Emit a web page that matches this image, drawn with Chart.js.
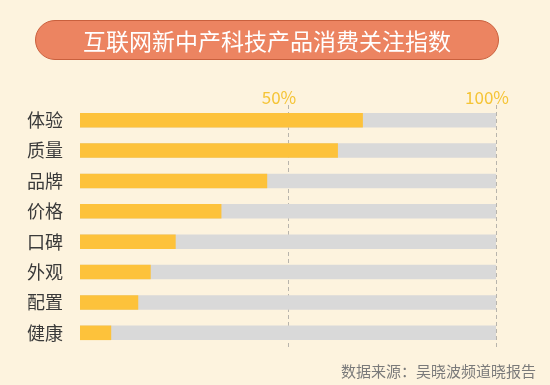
<!DOCTYPE html>
<html>
<head>
<meta charset="utf-8">
<script src="https://cdn.jsdelivr.net/npm/chart.js@4/dist/chart.umd.min.js"></script>
<style>
  html, body { margin: 0; padding: 0; background: #fdf3de; }
  #wrap { position: relative; width: 550px; height: 385px; overflow: hidden; }
  #title {
    position: absolute; left: 35px; top: 20px; width: 462px; height: 38px;
    background: #ec8461; border: 1.5px solid #c9603d; border-radius: 20px;
    color: #fff; font: 23px "Noto Sans CJK SC", sans-serif; line-height: 38px;
    text-align: center;
  }
  #source {
    position: absolute; right: 14px; top: 360px;
    color: #7a7a7a; font: 15px "Noto Sans CJK SC", sans-serif;
  }
  canvas { position: absolute; left: 0; top: 0; }
</style>
</head>
<body>
<div id="wrap">
  <canvas id="chart1" width="550" height="385"></canvas>
  <div id="title">互联网新中产科技产品消费关注指数</div>
  <div id="source">数据来源：吴晓波频道晓报告</div>
</div>
<script>
"use strict";

const categories = ['体验', '质量', '品牌', '价格', '口碑', '外观', '配置', '健康'];
const values = [68, 62, 45, 34, 23, 17, 14, 7.5];
const fullScale = [100, 100, 100, 100, 100, 100, 100, 100];
const tickValues = [50, 100];

document.addEventListener("DOMContentLoaded", () => {

    const data = {
        labels: categories,
        datasets: [{
            label: '指数',
            backgroundColor: '#fdc23b',
            data: values,
        }, {
            label: '满值',
            backgroundColor: '#d9d9d9',
            data: fullScale,
        }]
    };

    const config = {
        type: 'bar',
        data: data,
        options: {
            indexAxis: 'y',
            responsive: false,
            animation: false,
            layout: { padding: { left: 5, right: 54, top: 76, bottom: 37 } },
            datasets: {
                bar: { grouped: false, barPercentage: 0.96, categoryPercentage: 0.5 }
            },
            plugins: {
                legend: { display: false },
                tooltip: { enabled: false }
            },
            scales: {
                x: {
                    position: 'top',
                    min: 0,
                    max: 100,
                    afterBuildTicks: (scale) => {
                        scale.ticks = tickValues.map(v => ({ value: v }));
                    },
                    afterFit: (scale) => { scale.height = 29; },
                    border: { display: false, dash: [4, 3] },
                    grid: {
                        color: '#b8b4ac',
                        lineWidth: 1,
                        drawTicks: false
                    },
                    ticks: {
                        callback: (v) => v + '%',
                        color: '#f5c436',
                        padding: -3,
                        labelOffset: -9,
                        font: { family: 'Noto Sans CJK SC', size: 17 }
                    }
                },
                y: {
                    afterFit: (scale) => { scale.width = 75; },
                    border: { display: false },
                    grid: { display: false },
                    ticks: {
                        color: '#3a3a3a',
                        padding: 9,
                        font: { family: 'Noto Sans CJK SC', size: 18 }
                    }
                }
            }
        }
    };

    new Chart(document.getElementById('chart1'), config);

}, { once: true });
</script>
</body>
</html>
